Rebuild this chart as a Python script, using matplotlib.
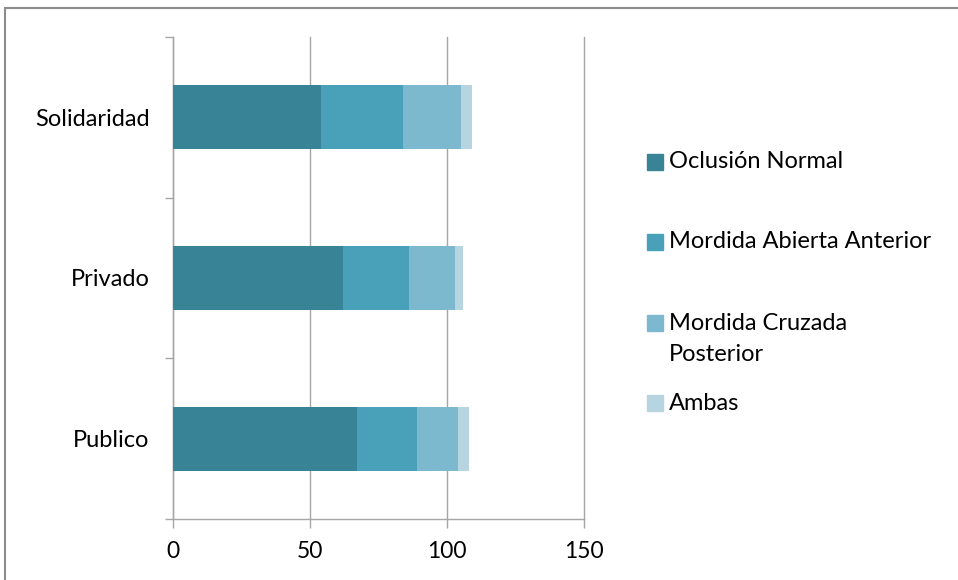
import matplotlib
matplotlib.use("Agg")
import matplotlib.pyplot as plt
from matplotlib.patches import Rectangle
import numpy as np

plt.rcParams['font.family'] = ['Lato', 'DejaVu Sans']

categories = ["Publico", "Privado", "Solidaridad"]
series_names = ["Oclusión Normal", "Mordida Abierta Anterior",
                "Mordida Cruzada\nPosterior", "Ambas"]
oclusion_normal = [67, 62, 54]
mordida_abierta = [22, 24, 30]
mordida_cruzada = [15, 17, 21]
ambas = [4, 3, 4]
x_ticks = [0, 50, 100, 150]

colors = ["#398397", "#48A1B9", "#7CB9CF", "#B6D5E0"]
grid_color = "#A6A6A6"

W, H = 958, 580
fig = plt.figure(figsize=(W / 100, H / 100), dpi=100)
ax = fig.add_axes([173 / W, (H - 519) / H, (584 - 173) / W, (519 - 37) / H])

y = np.arange(len(categories))
left = np.zeros(len(categories))
for vals, col in zip([oclusion_normal, mordida_abierta, mordida_cruzada, ambas], colors):
    ax.barh(y, vals, left=left, height=0.4, color=col, edgecolor="none", zorder=3)
    left += np.array(vals)

ax.set_xlim(0, 150)
ax.set_ylim(-0.5, len(categories) - 0.5)
ax.set_xticks(x_ticks)
ax.set_xticklabels([str(t) for t in x_ticks], fontsize=16.5)
ax.xaxis.grid(True, color=grid_color, linewidth=1.0, zorder=0)
for gl in ax.get_xgridlines():
    gl.set_clip_on(False)

# category boundaries carry the tick marks, labels sit at the centres
ax.set_yticks(np.arange(-0.5, len(categories), 1.0))
ax.set_yticklabels([])
ax.set_yticks(y, minor=True)
ax.set_yticklabels(categories, minor=True, fontsize=17)
ax.tick_params(axis="y", which="major", length=5.5, color=grid_color, width=1.0, direction="out")
ax.tick_params(axis="y", which="minor", length=0, pad=17)
ax.tick_params(axis="x", length=6.5, color=grid_color, width=1.0, direction="out", pad=9)

for s in ["top", "right"]:
    ax.spines[s].set_visible(False)
for s in ["left", "bottom"]:
    ax.spines[s].set_color(grid_color)
    ax.spines[s].set_linewidth(1.0)

# legend
legend_rows = [162, 242, 339, 403]
for name, col, yy in zip(series_names, colors, legend_rows):
    sq_y = yy if "\n" not in name else 323
    fig.patches.append(Rectangle((647 / W, (H - sq_y - 8) / H), 16 / W, 16 / H,
                                 transform=fig.transFigure, color=col))
    fig.text(669 / W, (H - yy) / H, name, fontsize=17, va="center",
             ha="left", linespacing=1.55)

# outer chart border
fig.patches.append(Rectangle((5 / W, -0.1), 1.2, (H - 8) / H + 0.1, transform=fig.transFigure,
                             fill=False, edgecolor="#8C8C8C", linewidth=1.5))

fig.savefig("out.png", dpi=100)
